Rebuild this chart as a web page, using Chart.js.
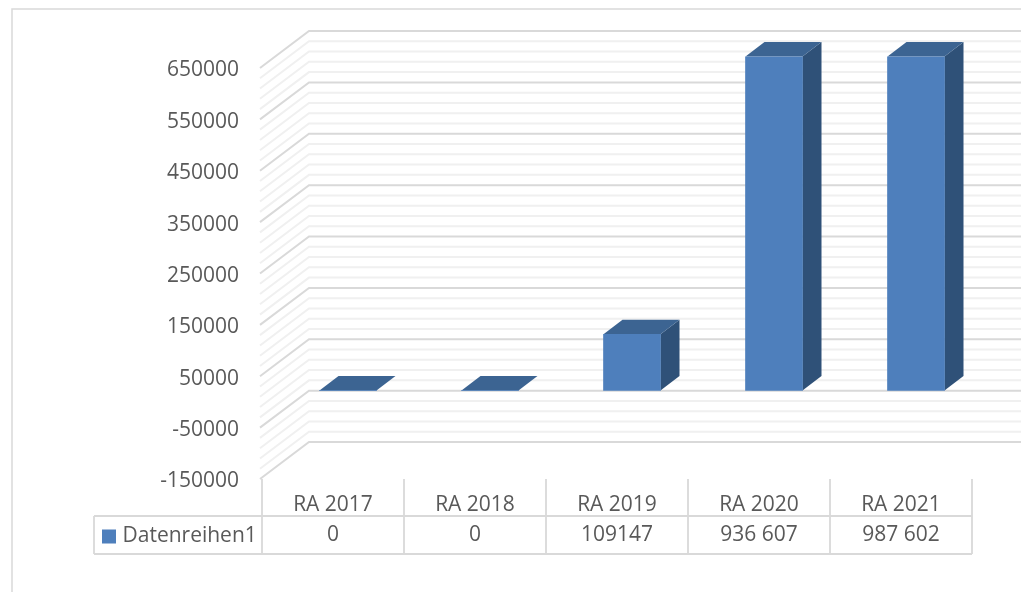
<!DOCTYPE html>
<html>
<head>
<meta charset="utf-8">
<style>html,body{margin:0;padding:0;background:#fff}canvas{display:block}</style>
<script src="https://cdn.jsdelivr.net/npm/chart.js@4/dist/chart.umd.min.js"></script>
</head>
<body>
<canvas id="c" width="1021" height="592"></canvas>
<script>
const categories = ['RA 2017', 'RA 2018', 'RA 2019', 'RA 2020', 'RA 2021'];
const seriesName = 'Datenreihen1';
const seriesValues = [0, 0, 109147, 936607, 987602];
const tableLabels = ['0', '0', '109147', '936 607', '987 602'];
const axisMin = -150000;
const axisMax = 650000;
const majorStep = 100000;
const minorStep = 20000;

const TEXT = '#595959', FONT = '"Open Sans"', FS = 21;
const FRONT = '#4e7fbc', TOP = '#3c6492', SIDE = '#2f5178';
const MAJOR = '#d9d9d9', MINOR = '#f0f0f0';
const WALL = {x: 47, y: 37}, SHIFT = {x: 15, y: 11.5}, DEPTH = {x: 19, y: 14.5};

const threeD = {
  id: 'threeD',
  beforeDraw(chart) {
    const c = chart.ctx;
    c.save();
    c.strokeStyle = MAJOR; c.lineWidth = 1.5;
    c.beginPath(); c.moveTo(12, 592); c.lineTo(12, 9); c.lineTo(1021, 9); c.stroke();
    c.restore();
  },
  beforeDatasetsDraw(chart) {
    const c = chart.ctx, y = chart.scales.y, a = chart.chartArea;
    c.save();
    c.lineWidth = 2;
    const ticks = y.ticks.slice().sort((p, q) => ((p.value - axisMin) % majorStep === 0) - ((q.value - axisMin) % majorStep === 0));
    ticks.forEach(t => {
      const py = y.getPixelForValue(t.value);
      c.strokeStyle = (t.value - axisMin) % majorStep === 0 ? MAJOR : MINOR;
      c.beginPath();
      c.moveTo(a.left - 2, py);
      c.lineTo(a.left + WALL.x, py - WALL.y);
      c.lineTo(chart.width, py - WALL.y);
      c.stroke();
    });
    c.restore();
    // data table
    const x = chart.scales.x, rowMid = 516, rowBottom = 554, tableLeft = 94;
    const colW = x.width / categories.length;
    c.save();
    c.strokeStyle = MAJOR; c.lineWidth = 1.8;
    c.beginPath();
    for (let i = 0; i <= categories.length; i++) {
      const px = a.left + i * colW;
      c.moveTo(px, a.bottom); c.lineTo(px, rowBottom);
    }
    c.moveTo(tableLeft, rowMid); c.lineTo(a.right, rowMid);
    c.moveTo(tableLeft, rowBottom); c.lineTo(a.right, rowBottom);
    c.moveTo(tableLeft, rowMid); c.lineTo(tableLeft, rowBottom);
    c.stroke();
    c.fillStyle = TEXT; c.font = FS + 'px ' + FONT; c.textAlign = 'center'; c.textBaseline = 'middle';
    tableLabels.forEach((s, i) => c.fillText(s, x.getPixelForValue(i), 535));
    c.restore();
  },
  beforeDatasetDraw(chart, args) {
    const c = chart.ctx, a = chart.chartArea;
    c.save();
    c.translate(SHIFT.x, -SHIFT.y);
    args.meta.data.forEach(b => {
      const top = Math.max(b.y, a.top), base = b.base, l = b.x - b.width / 2, r = b.x + b.width / 2;
      c.fillStyle = SIDE;
      c.beginPath(); c.moveTo(r, top); c.lineTo(r + DEPTH.x, top - DEPTH.y); c.lineTo(r + DEPTH.x, base - DEPTH.y); c.lineTo(r, base); c.closePath(); c.fill();
      c.fillStyle = TOP;
      c.beginPath(); c.moveTo(l, top); c.lineTo(l + DEPTH.x, top - DEPTH.y); c.lineTo(r + DEPTH.x, top - DEPTH.y); c.lineTo(r, top); c.closePath(); c.fill();
    });
  },
  afterDatasetDraw(chart) { chart.ctx.restore(); },
  afterLayout(chart) {
    const l = chart.legend;
    const w = l.width, h = l.height;
    l.left = 102; l.top = 522; l.right = 102 + w + 12; l.bottom = 522 + h + 12;
    const y = chart.scales.y;
    const orig = y.drawLabels;
    y.drawLabels = function (area) {
      chart.ctx.save();
      chart.ctx.translate(0, 2.5);
      orig.call(this, area);
      chart.ctx.restore();
    };
  }
};

new Chart(document.getElementById('c'), {
  type: 'bar',
  data: {
    labels: categories,
    datasets: [{label: seriesName, data: seriesValues, backgroundColor: FRONT, borderWidth: 0, barThickness: 57}]
  },
  plugins: [threeD],
  options: {
    responsive: false,
    animation: false,
    events: [],
    layout: {padding: {top: 68, left: 0, right: 49, bottom: 0}},
    plugins: {
      title: {display: false},
      tooltip: {enabled: false},
      legend: {
        display: true,
        position: 'chartArea',
        align: 'start',
        labels: {
          color: TEXT,
          font: {family: FONT, size: FS},
          padding: 4,
          boxWidth: 6,
          boxHeight: 6,
          generateLabels: ch => [{text: seriesName, fillStyle: FRONT, strokeStyle: FRONT, lineWidth: 8, hidden: false, datasetIndex: 0, fontColor: TEXT}]
        }
      }
    },
    scales: {
      x: {
        grid: {display: false},
        border: {display: false},
        ticks: {color: TEXT, font: {family: FONT, size: FS}, maxRotation: 0, autoSkip: false, padding: 5},
        afterFit: s => { s.height = 113; }
      },
      y: {
        min: axisMin,
        max: axisMax,
        grid: {display: false},
        border: {display: false},
        ticks: {
          stepSize: minorStep,
          autoSkip: false,
          color: TEXT,
          font: {family: FONT, size: FS},
          padding: 15,
          callback: v => ((v - axisMin) % majorStep === 0 ? String(v) : '')
        },
        afterFit: s => { s.width = 262; }
      }
    }
  }
});
</script>
</body>
</html>
